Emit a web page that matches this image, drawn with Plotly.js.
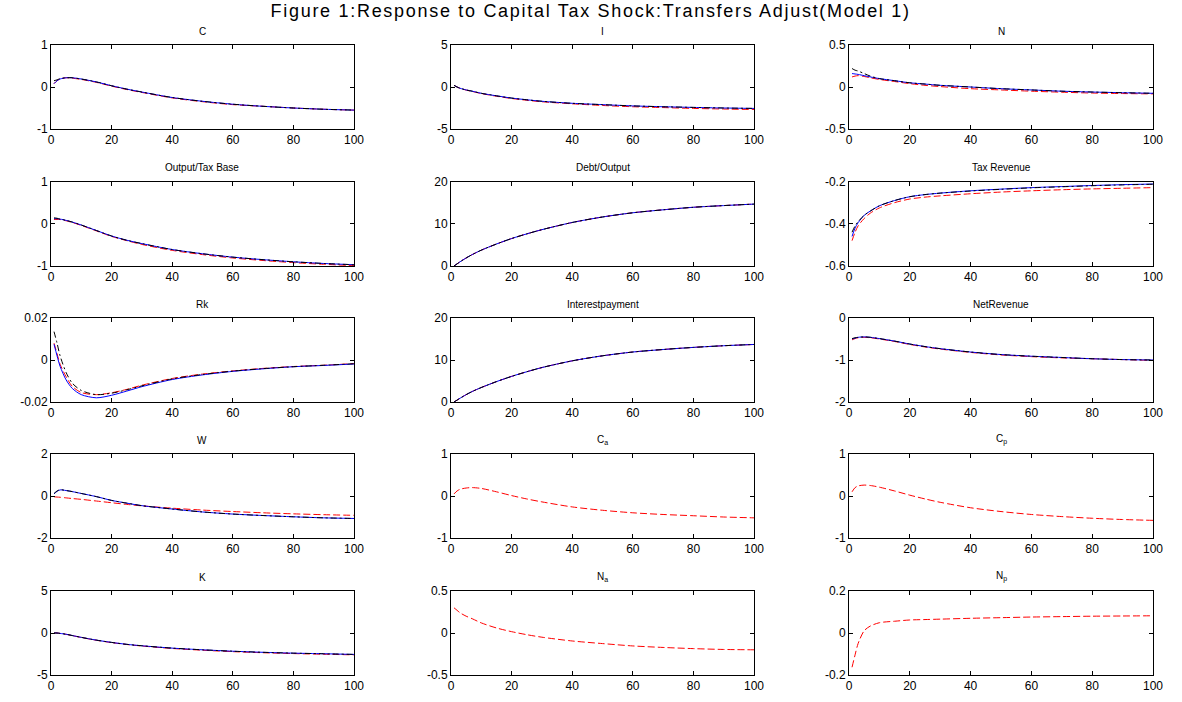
<!DOCTYPE html>
<html>
<head>
<meta charset="utf-8">
<script src="https://cdn.plot.ly/plotly-3.0.1.min.js"></script>
<style>
html,body{margin:0;padding:0;background:#fff;}
#chart{width:1182px;height:702px;}
g.annotation[data-index="0"] text{letter-spacing:1.7px;}
</style>
</head>
<body>
<div id="chart"></div>
<script>
// Horizon (periods)
const t = [1,2,3,5,7,10,15,20,25,30,40,50,60,70,80,90,100];
const xTicks = [0,20,40,60,80,100];

// Panel titles
const titles = ["C","I","N","Output/Tax Base","Debt/Output","Tax Revenue","Rk","Interestpayment","NetRevenue","W","C<sub>a</sub>","C<sub>p</sub>","K","N<sub>a</sub>","N<sub>p</sub>"];

// Y tick values / labels per panel
const yTickVals = [[-1,0,1],[-5,0,5],[-0.5,0,0.5],[-1,0,1],[0,10,20],[-0.6,-0.4,-0.2],[-0.02,0,0.02],[0,10,20],[-2,-1,0],[-2,0,2],[-1,0,1],[-1,0,1],[-5,0,5],[-0.5,0,0.5],[-0.2,0,0.2]];
const yTickText = [["-1","0","1"],["-5","0","5"],["-0.5","0","0.5"],["-1","0","1"],["0","10","20"],["-0.6","-0.4","-0.2"],["-0.02","0","0.02"],["0","10","20"],["-2","-1","0"],["-2","0","2"],["-1","0","1"],["-1","0","1"],["-5","0","5"],["-0.5","0","0.5"],["-0.2","0","0.2"]];

// Series: blue solid, black dash-dot, red dashed
const C_blue  = [0.08,0.15,0.19,0.22,0.22,0.19,0.12,0.03,-0.05,-0.12,-0.25,-0.34,-0.41,-0.46,-0.5,-0.53,-0.55];
const C_black = [0.15,0.17,0.2,0.22,0.22,0.19,0.12,0.03,-0.05,-0.12,-0.25,-0.34,-0.41,-0.46,-0.5,-0.53,-0.55];
const C_red   = [0.08,0.15,0.19,0.22,0.21,0.18,0.11,0.02,-0.06,-0.13,-0.26,-0.35,-0.42,-0.46,-0.5,-0.53,-0.55];

const I_blue  = [0.2,0.0,-0.15,-0.35,-0.5,-0.75,-1.05,-1.32,-1.52,-1.7,-1.94,-2.1,-2.25,-2.35,-2.43,-2.5,-2.55];
const I_black = [0.2,0.0,-0.15,-0.35,-0.5,-0.75,-1.05,-1.32,-1.52,-1.7,-1.94,-2.1,-2.25,-2.35,-2.43,-2.5,-2.55];
const I_red   = [0.2,0.0,-0.15,-0.37,-0.53,-0.78,-1.1,-1.37,-1.58,-1.76,-2.0,-2.2,-2.35,-2.45,-2.55,-2.62,-2.68];

const N_blue  = [0.16,0.155,0.15,0.135,0.12,0.1,0.075,0.05,0.035,0.02,0.0,-0.02,-0.035,-0.05,-0.06,-0.068,-0.075];
const N_black = [0.22,0.2,0.19,0.16,0.13,0.1,0.075,0.05,0.035,0.02,0.0,-0.02,-0.035,-0.05,-0.06,-0.068,-0.075];
const N_red   = [0.12,0.13,0.135,0.125,0.11,0.09,0.065,0.04,0.02,0.005,-0.02,-0.035,-0.05,-0.062,-0.072,-0.078,-0.082];

const Y_blue  = [0.12,0.12,0.11,0.08,0.04,-0.03,-0.16,-0.29,-0.39,-0.47,-0.61,-0.71,-0.79,-0.85,-0.9,-0.94,-0.97];
const Y_black = [0.14,0.13,0.11,0.08,0.04,-0.03,-0.16,-0.29,-0.39,-0.47,-0.61,-0.71,-0.79,-0.85,-0.9,-0.94,-0.97];
const Y_red   = [0.1,0.1,0.1,0.07,0.03,-0.04,-0.17,-0.3,-0.4,-0.49,-0.63,-0.73,-0.81,-0.87,-0.92,-0.96,-0.99];

const D_blue  = [0,0.5,1.0,1.9,2.7,3.75,5.2,6.5,7.6,8.6,10.3,11.6,12.6,13.3,13.9,14.3,14.65];
const D_black = [0,0.5,1.0,1.9,2.7,3.75,5.2,6.5,7.6,8.6,10.3,11.6,12.6,13.3,13.9,14.3,14.65];
const D_red   = [0,0.5,1.0,1.9,2.7,3.75,5.2,6.5,7.6,8.6,10.3,11.6,12.6,13.3,13.9,14.3,14.65];

const T_blue  = [-0.46,-0.42,-0.395,-0.36,-0.34,-0.315,-0.29,-0.272,-0.262,-0.255,-0.244,-0.236,-0.229,-0.224,-0.219,-0.215,-0.212];
const T_black = [-0.44,-0.41,-0.39,-0.36,-0.34,-0.315,-0.29,-0.272,-0.262,-0.255,-0.245,-0.237,-0.23,-0.225,-0.22,-0.216,-0.213];
const T_red   = [-0.48,-0.44,-0.41,-0.375,-0.35,-0.325,-0.3,-0.283,-0.274,-0.268,-0.258,-0.25,-0.244,-0.239,-0.235,-0.232,-0.229];

const R_blue  = [0.0075,0.002,-0.003,-0.0095,-0.0135,-0.0165,-0.018,-0.0168,-0.0148,-0.0127,-0.0093,-0.0071,-0.0054,-0.0042,-0.0032,-0.0026,-0.0019];
const R_black = [0.0135,0.008,0.002,-0.006,-0.011,-0.0145,-0.0165,-0.0158,-0.0142,-0.0123,-0.009,-0.0069,-0.0053,-0.0041,-0.0032,-0.0025,-0.0018];
const R_red   = [0.008,0.003,-0.002,-0.008,-0.0125,-0.0155,-0.0165,-0.0156,-0.014,-0.012,-0.0088,-0.0067,-0.0052,-0.004,-0.0031,-0.0025,-0.0017];

const P_blue  = [0,0.45,0.9,1.75,2.5,3.45,4.85,6.1,7.2,8.2,9.8,11.0,11.9,12.5,13.0,13.4,13.7];
const P_black = [0,0.45,0.9,1.75,2.5,3.45,4.85,6.1,7.2,8.2,9.8,11.0,11.9,12.5,13.0,13.4,13.7];
const P_red   = [0,0.45,0.9,1.75,2.5,3.45,4.85,6.1,7.2,8.2,9.8,11.0,11.9,12.5,13.0,13.4,13.7];

const NR_blue  = [-0.5,-0.48,-0.46,-0.45,-0.46,-0.49,-0.55,-0.62,-0.68,-0.73,-0.81,-0.87,-0.91,-0.94,-0.97,-0.99,-1.0];
const NR_black = [-0.49,-0.47,-0.46,-0.45,-0.46,-0.49,-0.55,-0.62,-0.68,-0.73,-0.81,-0.87,-0.91,-0.94,-0.97,-0.99,-1.0];
const NR_red   = [-0.52,-0.49,-0.47,-0.46,-0.47,-0.5,-0.56,-0.63,-0.69,-0.74,-0.82,-0.88,-0.92,-0.95,-0.97,-0.99,-1.01];

const W_blue  = [0.1,0.22,0.29,0.26,0.21,0.12,-0.03,-0.21,-0.34,-0.46,-0.62,-0.76,-0.86,-0.93,-0.99,-1.04,-1.07];
const W_black = [0.12,0.24,0.3,0.26,0.21,0.12,-0.03,-0.21,-0.34,-0.46,-0.62,-0.76,-0.86,-0.93,-0.99,-1.04,-1.07];
const W_red   = [-0.04,-0.05,-0.06,-0.09,-0.12,-0.16,-0.24,-0.32,-0.4,-0.47,-0.58,-0.67,-0.74,-0.8,-0.85,-0.89,-0.92];

const Ca_red = [0.05,0.12,0.16,0.19,0.2,0.18,0.1,0.01,-0.07,-0.14,-0.26,-0.34,-0.4,-0.44,-0.47,-0.5,-0.52];
const Cp_red = [0.1,0.2,0.24,0.26,0.25,0.21,0.12,0.02,-0.07,-0.15,-0.28,-0.37,-0.44,-0.49,-0.53,-0.56,-0.58];

const K_blue  = [0,0.0,-0.05,-0.15,-0.3,-0.52,-0.85,-1.12,-1.35,-1.52,-1.8,-2.0,-2.17,-2.3,-2.4,-2.47,-2.55];
const K_black = [0,0.0,-0.05,-0.15,-0.3,-0.52,-0.85,-1.12,-1.35,-1.52,-1.8,-2.0,-2.17,-2.3,-2.4,-2.47,-2.55];
const K_red   = [0,0.0,-0.05,-0.16,-0.31,-0.53,-0.87,-1.14,-1.37,-1.55,-1.84,-2.05,-2.22,-2.35,-2.45,-2.53,-2.6];

const Na_red = [0.3,0.27,0.24,0.2,0.17,0.12,0.06,0.016,-0.02,-0.05,-0.095,-0.126,-0.154,-0.172,-0.186,-0.196,-0.2];
const Np_red = [-0.163,-0.104,-0.05,0.011,0.033,0.049,0.056,0.062,0.064,0.066,0.07,0.073,0.076,0.078,0.08,0.081,0.082];

const panelSeries = [
  [C_red, C_blue, C_black],
  [I_red, I_blue, I_black],
  [N_red, N_blue, N_black],
  [Y_red, Y_blue, Y_black],
  [D_red, D_blue, D_black],
  [T_red, T_blue, T_black],
  [R_red, R_blue, R_black],
  [P_red, P_blue, P_black],
  [NR_red, NR_blue, NR_black],
  [W_red, W_blue, W_black],
  [Ca_red, null, null],
  [Cp_red, null, null],
  [K_red, K_blue, K_black],
  [Na_red, null, null],
  [Np_red, null, null]
];

// Layout geometry (pixels)
const W = 1182, H = 702;
const colX = [[51,354],[451,754],[849,1153]];
const rowY = [[45,129],[181.5,266],[318,402],[454,538],[591,675]];

const styles = [
  {color:'#ff0000', dash:'7px,3px'},
  {color:'#0000ff', dash:'solid'},
  {color:'#000000', dash:'6px,3px,2px,3px'}
];

const fontFam = 'Liberation Sans, Arial, sans-serif';
const data = [];
const layout = {
  width: W, height: H,
  margin: {l:0, r:0, t:0, b:0},
  paper_bgcolor: '#fff', plot_bgcolor: '#fff',
  showlegend: false,
  font: {family: fontFam, size: 12, color: '#000'},
  annotations: [{
    text: 'Figure 1:Response to Capital Tax Shock:Transfers Adjust(Model 1)',
    xref: 'paper', yref: 'paper', x: 590/W, y: 1 - 11/H,
    xanchor: 'center', yanchor: 'middle', showarrow: false,
    font: {family: fontFam, size: 18, color: '#000'}
  }]
};

for (let p = 0; p < 15; p++) {
  const r = Math.floor(p / 3), c = p % 3;
  const idx = p === 0 ? '' : String(p + 1);
  const xa = 'x' + idx, ya = 'y' + idx;
  panelSeries[p].forEach((s, k) => {
    if (!s) return;
    data.push({
      x: t, y: s, xaxis: xa, yaxis: ya, type: 'scatter', mode: 'lines',
      line: {color: styles[k].color, dash: styles[k].dash, width: 1, shape: 'spline', smoothing: 0.8},
      hoverinfo: 'skip'
    });
  });
  const yv = yTickVals[p];
  const common = {
    showline: true, linecolor: '#000', linewidth: 1, mirror: 'ticks',
    ticks: 'inside', ticklen: 4, tickwidth: 1, tickcolor: '#000',
    showgrid: false, zeroline: false,
    tickfont: {family: fontFam, size: 12, color: '#000'}, fixedrange: true
  };
  layout['xaxis' + idx] = Object.assign({}, common, {
    domain: [colX[c][0] / W, colX[c][1] / W], anchor: ya,
    range: [0, 100], tickmode: 'array', tickvals: xTicks, ticktext: xTicks.map(String)
  });
  layout['yaxis' + idx] = Object.assign({}, common, {
    domain: [1 - rowY[r][1] / H, 1 - rowY[r][0] / H], anchor: xa,
    range: [yv[0], yv[yv.length - 1]], tickmode: 'array', tickvals: yv, ticktext: yTickText[p]
  });
  layout.annotations.push({
    text: titles[p], xref: 'paper', yref: 'paper',
    x: (colX[c][0] + colX[c][1]) / 2 / W, y: 1 - rowY[r][0] / H,
    xanchor: 'center', yanchor: 'bottom', yshift: 6, showarrow: false,
    font: {family: fontFam, size: 10, color: '#000'}
  });
}

Plotly.newPlot('chart', data, layout, {displayModeBar: false, staticPlot: true});
</script>
</body>
</html>
